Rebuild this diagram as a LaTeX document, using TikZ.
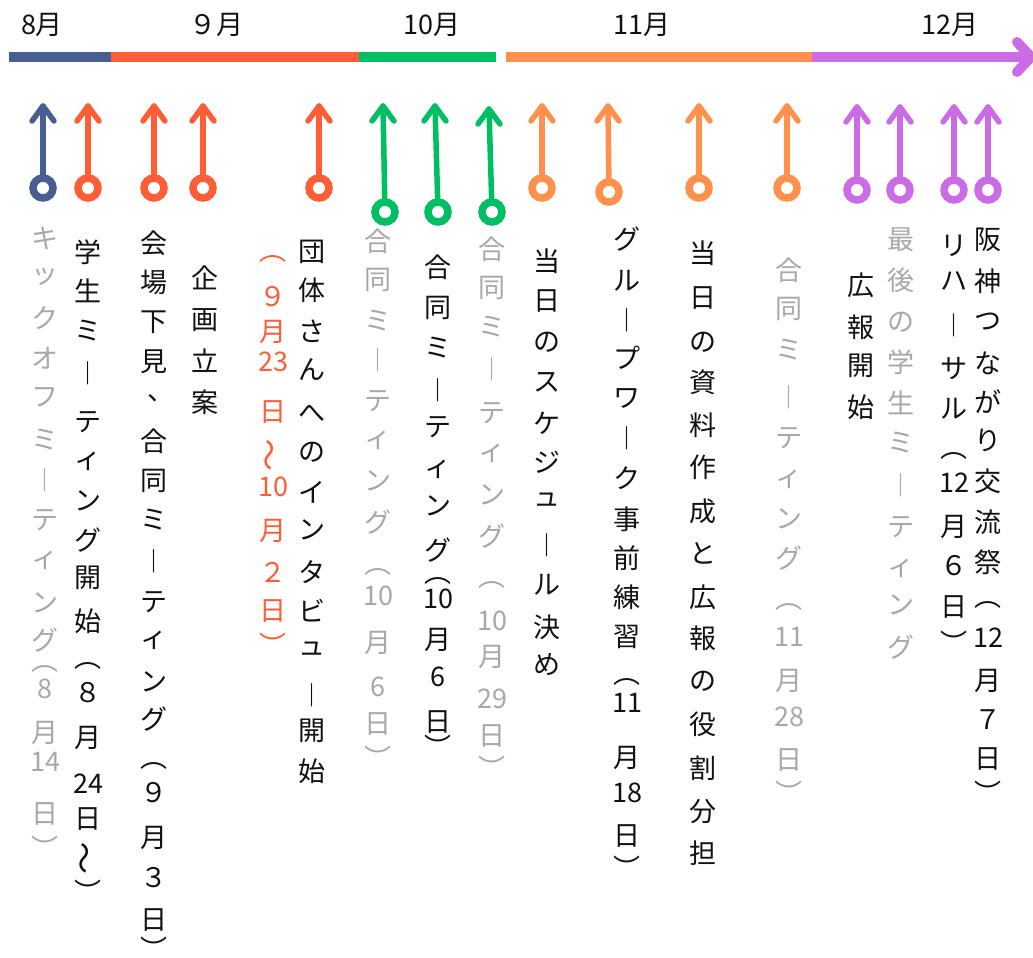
\documentclass[tikz,border=0pt]{standalone}
\usepackage{fontspec}
\usepackage{graphicx}
\newfontfamily\jp{Noto Sans CJK JP}
\definecolor{cblue}{HTML}{485D92}
\definecolor{cred}{HTML}{FF5D35}
\definecolor{cgreen}{HTML}{00BF63}
\definecolor{corange}{HTML}{FF914D}
\definecolor{cpurple}{HTML}{CB6CE6}
\definecolor{cgray}{HTML}{A8A8A8}
\definecolor{ctext}{HTML}{111111}
\newcommand\myBar{︱}
\newcommand\myWave{\rotatebox[origin=c]{90}{\scalebox{1.2}{〜}}}
\tikzset{
  evline/.style={line width=5.5pt, line cap=round, line join=round},
  ring/.style={circle, draw, line width=7.5pt, minimum size=20pt, inner sep=0pt, fill=white},
  bar/.style={line width=10pt},
  lbl/.style={font=\jp\fontsize{27}{27}\selectfont, inner sep=0pt, text=ctext},
}
\newcommand\evarrow[6]{%
  \node[ring, draw=#2] (#1c) at (#3,#4) {};
  \coordinate (#1t) at (#5,#6);
  \draw[evline, #2] (#1c) -- (#1t);
  \draw[evline, #2] ([shift={(-11,15)}]#1t) -- (#1t) -- ([shift={(11,15)}]#1t);
}
\newcommand\vcol[4]{%
  \foreach \c/\y [count=\i] in {#4} {\node[lbl, text=#2] (#1\i) at (#3,\y) {\c};}
}
\begin{document}
\begin{tikzpicture}[x=1pt,y=-1pt]
\useasboundingbox (0,0) rectangle (1033,958);
\fill[white] (0,0) rectangle (1033,958);
% timeline
\coordinate (t0) at (9,57);
\coordinate (t1) at (111,57);
\coordinate (t2) at (359,57);
\coordinate (t3) at (496,57);
\coordinate (t4) at (506,57);
\coordinate (t5) at (812,57);
\coordinate (t6) at (1029,57);
\coordinate (t7) at (1031,57);
\draw[bar, cblue] (t0) -- (t1);
\draw[bar, cred] (t1) -- (t2);
\draw[bar, cgreen] (t2) -- (t3);
\draw[bar, corange] (t4) -- (t5);
\draw[bar, cpurple] (t5) -- (t6);
\draw[cpurple, line width=10pt, line cap=round, line join=round]
  ([shift={(-14,-15)}]t7) -- (t7) -- ([shift={(-14,15)}]t7);
% months
\node[lbl] (m8) at (42,25) {8月};
\node[lbl] (m9) at (216,25) {９月};
\node[lbl] (m10) at (432,25) {10月};
\node[lbl] (m11) at (642,25) {11月};
\node[lbl] (m12) at (950,25) {12月};
% arrows
\evarrow{A1}{cblue}{43}{188}{43}{106}
\evarrow{R1}{cred}{88}{188}{88}{106}
\evarrow{R2}{cred}{154}{188}{154}{106}
\evarrow{R3}{cred}{203}{188}{203}{106}
\evarrow{R4}{cred}{319}{188}{319}{106}
\evarrow{G1}{cgreen}{385}{212}{383}{106}
\evarrow{G2}{cgreen}{438}{212}{435}{106}
\evarrow{G3}{cgreen}{492}{212}{489}{109}
\evarrow{O1}{corange}{542}{188}{542}{106}
\evarrow{O2}{corange}{609}{192}{608}{106}
\evarrow{O3}{corange}{699}{188}{699}{106}
\evarrow{O4}{corange}{787}{188}{787}{106}
\evarrow{P1}{cpurple}{857}{190}{857}{107}
\evarrow{P2}{cpurple}{900}{190}{900}{107}
\evarrow{P3}{cpurple}{954}{190}{954}{107}
\evarrow{P4}{cpurple}{988}{190}{988}{107}
% text columns
\vcol{ca}{cgray}{45}{キ/238, ッ/277, ク/318, オ/358, フ/397, ミ/440, {\myBar}/480, テ/520, ィ/560, ン/603, グ/640, ︵/669, 8/689, 月/733, 14/762, 日/814, ︶/847}
\vcol{cb}{ctext}{88}{学/252, 生/291, ミ/331, {\myBar}/373, テ/422, ィ/461, ン/501, グ/540, 開/578, 始/621, ︵/666, ８/693, 月/738, 24/784, 日/819, {\myWave}/858, ︶/891}
\vcol{cc}{ctext}{154}{会/243, 場/282, 下/322, 見/362, 合/441, 同/481, ミ/520, {\myBar}/561, テ/602, ィ/640, ン/682, グ/719, ︵/766, ９/793, 月/838, ３/878, 日/920, ︶/948}
\node[lbl] (ccx) at (161,398) {、};
\vcol{cd}{ctext}{205}{企/278, 画/320, 立/361, 案/402}
\vcol{ce}{cred}{273}{︵/259, ９/297, 月/332, 23/362, 日/412, {\myWave}/455, 10/487, 月/531, ２/572, 日/611, ︶/644}
\vcol{cf}{ctext}{312}{団/252, 体/290, さ/331, ん/370, へ/414, の/452, イ/492, ン/530, タ/572, ビ/611, ュ/649, {\myBar}/695, 開/731, 始/771}
\vcol{cg}{cgray}{378}{合/241, 同/280, ミ/321, {\myBar}/360, テ/401, ィ/440, ン/481, グ/522, ︵/572, 10/596, 月/643, 6/687, 日/724, ︶/757}
\vcol{ch}{ctext}{438}{合/267, 同/308, ミ/348, {\myBar}/390, テ/427, ィ/469, ン/506, グ/550, ︵/581, 10/599, 月/640, 6/677, 日/722, ︶/746}
\vcol{ci}{cgray}{492}{合/249, 同/288, ミ/327, {\myBar}/369, テ/413, ィ/453, ン/495, グ/536, ︵/585, 10/621, 月/657, 29/699, 日/736, ︶/767}
\vcol{cj}{ctext}{547}{当/261, 日/301, の/342, ス/382, ケ/423, ジ/462, ュ/500, {\myBar}/545, ル/585, 決/627, め/665}
\vcol{ck}{ctext}{627}{グ/239, ル/281, {\myBar}/320, プ/358, ワ/398, {\myBar}/438, ク/478, 事/519, 前/558, 練/597, 習/637, ︵/682, 11/703, 月/758, 18/793, 日/836, ︶/867}
\vcol{cl}{ctext}{703}{当/253, 日/298, の/342, 資/382, 料/425, 作/467, 成/511, と/553, 広/597, 報/638, の/681, 役/724, 割/768, 分/812, 担/853}
\vcol{cm}{cgray}{789}{合/270, 同/309, ミ/350, {\myBar}/397, テ/438, ィ/479, ン/519, グ/558, ︵/607, 11/637, 月/681, 28/717, 日/760, ︶/792}
\vcol{cn}{ctext}{861}{広/285, 報/327, 開/366, 始/407}
\vcol{co}{cgray}{901}{最/240, 後/280, の/322, 学/362, 生/403, ミ/443, {\myBar}/485, テ/527, ィ/568, ン/605, グ/647}
\vcol{cp}{ctext}{954}{リ/246, ハ/281, {\myBar}/325, サ/369, ル/409, ︵/456, 12/483, 月/527, ６/566, 日/607, ︶/642}
\vcol{cq}{ctext}{988}{阪/240, 神/281, つ/322, な/363, が/402, り/440, 交/481, 流/522, 祭/562, ︵/605, 12/638, 月/681, ７/720, 日/759, ︶/792}
\end{tikzpicture}
\end{document}
